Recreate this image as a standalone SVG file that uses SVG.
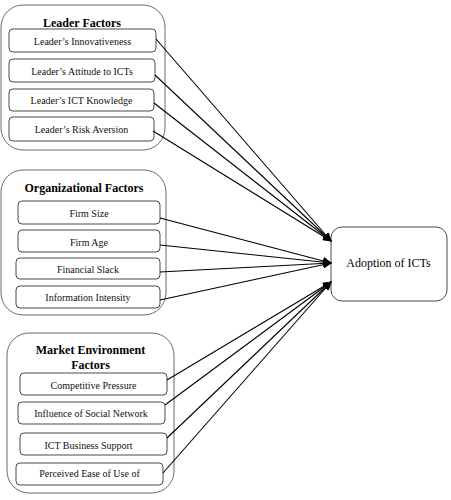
<svg xmlns="http://www.w3.org/2000/svg" width="451" height="500" viewBox="0 0 451 500">
<style>
.grp{fill:#fff;stroke:#6a6a6a;stroke-width:1}
.box{fill:#fff;stroke:#4a4a4a;stroke-width:1}
text{font-family:'Liberation Serif','Times New Roman',Times,serif;text-anchor:middle;fill:#111}
.t{font-size:10px}
.h{font-size:12px;font-weight:bold;fill:#000}
.m{font-size:12px;fill:#000}
.c{stroke:#000;stroke-width:1.1;fill:none;marker-end:url(#ah)}
</style>
<defs>
<marker id="ah" markerUnits="userSpaceOnUse" markerWidth="9" markerHeight="8" refX="8" refY="4" orient="auto">
<path d="M0,0 L9,4 L0,8 Z" fill="#000"/>
</marker>
</defs>
<g id="leader-factors">
<rect class="grp" x="1" y="5" width="164" height="145" rx="22"/>
<text class="h" x="82" y="27">Leader Factors</text>
<g id="leader-innovativeness"><rect class="box" x="9" y="29" width="147" height="23" rx="4"/><text class="t" x="82.5" y="44.5">Leader’s Innovativeness</text></g>
<g id="leader-attitude"><rect class="box" x="9" y="59" width="146" height="23" rx="4"/><text class="t" x="82" y="75">Leader’s Attitude to ICTs</text></g>
<g id="leader-knowledge"><rect class="box" x="9" y="89" width="145" height="22" rx="4"/><text class="t" x="81.5" y="104">Leader’s ICT Knowledge</text></g>
<g id="leader-risk"><rect class="box" x="9" y="117" width="145" height="24" rx="4"/><text class="t" x="81.5" y="133">Leader’s Risk Aversion</text></g>
</g>
<g id="organizational-factors">
<rect class="grp" x="1" y="170" width="165" height="145" rx="22"/>
<text class="h" x="84" y="192">Organizational Factors</text>
<g id="firm-size"><rect class="box" x="18" y="201" width="142" height="23" rx="4"/><text class="t" x="89" y="217">Firm Size</text></g>
<g id="firm-age"><rect class="box" x="18" y="230" width="142" height="22" rx="4"/><text class="t" x="89" y="245.5">Firm Age</text></g>
<g id="financial-slack"><rect class="box" x="16" y="258" width="144" height="21" rx="4"/><text class="t" x="88" y="273">Financial Slack</text></g>
<g id="information-intensity"><rect class="box" x="16" y="286" width="144" height="22" rx="4"/><text class="t" x="88" y="301">Information Intensity</text></g>
</g>
<g id="market-environment-factors">
<rect class="grp" x="7" y="333" width="167" height="160" rx="22"/>
<text class="h" x="90.5" y="354">Market Environment</text>
<text class="h" x="90.5" y="369">Factors</text>
<g id="competitive-pressure"><rect class="box" x="20" y="373" width="147" height="22" rx="4"/><text class="t" x="93.5" y="389">Competitive Pressure</text></g>
<g id="social-network"><rect class="box" x="18" y="402" width="147" height="22" rx="4"/><text class="t" x="91" y="416.5">Influence of Social Network</text></g>
<g id="ict-business-support"><rect class="box" x="20" y="433" width="147" height="22" rx="4"/><text class="t" x="88.5" y="449">ICT Business Support</text></g>
<g id="perceived-ease"><rect class="box" x="16" y="463" width="147" height="22" rx="4"/><text class="t" x="89.5" y="476.5">Perceived Ease of Use of</text></g>
</g>
<g id="adoption-of-icts">
<rect class="box" x="331" y="227" width="116" height="74" rx="11"/>
<text class="m" x="388.5" y="267">Adoption of ICTs</text>
</g>
<g id="connectors">
<line class="c" x1="156" y1="39" x2="331" y2="241"/>
<line class="c" x1="155" y1="75" x2="331" y2="241"/>
<line class="c" x1="154" y1="103" x2="331" y2="241"/>
<line class="c" x1="153" y1="131" x2="331" y2="241"/>
<line class="c" x1="160" y1="218" x2="331" y2="263"/>
<line class="c" x1="160" y1="245" x2="331" y2="263"/>
<line class="c" x1="160" y1="272" x2="331" y2="263"/>
<line class="c" x1="160" y1="300" x2="331" y2="263"/>
<line class="c" x1="167" y1="380" x2="331" y2="282"/>
<line class="c" x1="165" y1="405" x2="331" y2="282"/>
<line class="c" x1="167" y1="438" x2="331" y2="282"/>
<line class="c" x1="163" y1="473" x2="331" y2="282"/>
</g>
</svg>
